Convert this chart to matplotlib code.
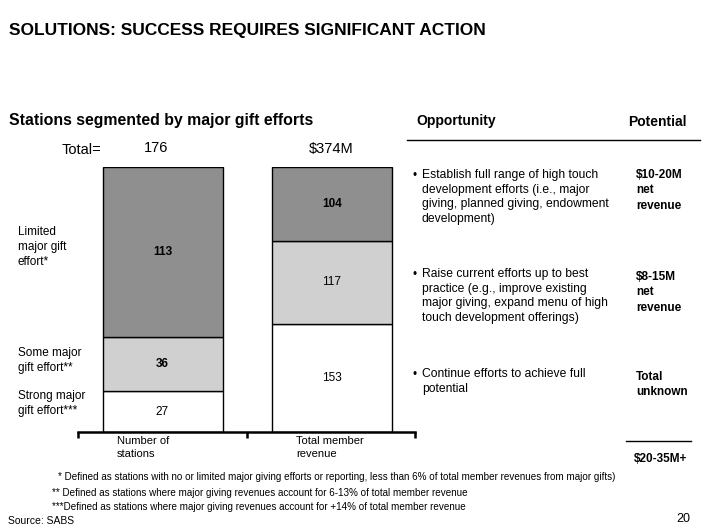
'''
Stacked bars of stations by major gift effort, with opportunity / potential table
'''

import matplotlib
matplotlib.use('Agg')
import matplotlib.pyplot as plt

plt.rcParams['font.family'] = ['Liberation Sans', 'DejaVu Sans']

W, H = 706, 529

#Data
segments = ['Strong major\ngift effort***', 'Some major\ngift effort**', 'Limited\nmajor gift\neffort*']
stations = [27, 36, 113]
revenue = [153, 117, 104]
bar_names = ['Number of\nstations', 'Total member\nrevenue']
totals = ['176', '$374M']
seg_colors = ['white', '#d0d0d0', '#8f8f8f']
bold_stations = [False, True, True]
bold_revenue = [False, False, True]

opportunities = ['Establish full range of high touch\ndevelopment efforts (i.e., major\ngiving, planned giving, endowment\ndevelopment)',
                 'Raise current efforts up to best\npractice (e.g., improve existing\nmajor giving, expand menu of high\ntouch development offerings)',
                 'Continue efforts to achieve full\npotential']
potentials = ['$10-20M\nnet\nrevenue', '$8-15M\nnet\nrevenue', 'Total\nunknown']
potential_total = '$20-35M+'

footnotes = ['* Defined as stations with no or limited major giving efforts or reporting, less than 6% of total member revenues from major gifts)',
             '** Defined as stations where major giving revenues account for 6-13% of total member revenue',
             '***Defined as stations where major giving revenues account for +14% of total member revenue']

def fx(x):
    return x / W

def fy(y):
    return 1 - y / H

fig = plt.figure(figsize=(W / 100, H / 100), dpi=100)

def txt(x, y, s, **kw):
    kw.setdefault('va', 'center')
    kw.setdefault('ha', 'left')
    fig.text(fx(x), fy(y), s, **kw)

#Bars - both stacked to 100%
left, right, top, bot = 78, 415, 167, 432
ax = fig.add_axes([fx(left), fy(bot), (right - left) / W, (bot - top) / H])
c1, c2 = 162.5, 332.0
step = c2 - c1
xmin, xmax = (left - c1) / step, (right - c1) / step
width = 120 / step

for xi, vals, bolds in [(0, stations, bold_stations), (1, revenue, bold_revenue)]:
    tot = float(sum(vals))
    base = 0.0
    for v, col, b in zip(vals, seg_colors, bolds):
        h = v / tot
        ax.bar(xi, h, width=width, bottom=base, color=col, edgecolor='black', linewidth=1.0)
        ax.text(xi, base + h / 2, str(v), ha='center', va='center', fontsize=8.5,
                fontweight='bold' if b else 'normal')
        base += h

ax.set_xlim(xmin, xmax)
ax.set_ylim(0, 1)
for s in ['top', 'left', 'right']:
    ax.spines[s].set_visible(False)
ax.spines['bottom'].set_linewidth(1.8)
ax.set_xticks([xmin, 0.5, xmax])
ax.set_xticklabels([])
ax.tick_params(axis='x', direction='out', length=4, width=1.8)
ax.set_yticks([])

#Headings
txt(9, 30, 'SOLUTIONS: SUCCESS REQUIRES SIGNIFICANT ACTION', fontsize=12.5, fontweight='bold')
txt(9, 121, 'Stations segmented by major gift efforts', fontsize=11.4, fontweight='bold')
txt(62, 150, 'Total=', fontsize=10.5)
txt(156, 148, totals[0], fontsize=10.5, ha='center')
txt(331, 149, totals[1], fontsize=10.5, ha='center')

#Segment labels at left
for lab, y in zip(segments, [403.5, 360.5, 247]):
    txt(18, y, lab, fontsize=8.5, linespacing=1.38)

#Bar labels below
txt(117, 447.5, bar_names[0], fontsize=8, linespacing=1.3)
txt(296, 447.5, bar_names[1], fontsize=8, linespacing=1.3)

#Opportunity / potential table
txt(416, 121, 'Opportunity', fontsize=10, fontweight='bold')
txt(628, 122, 'Potential', fontsize=10, fontweight='bold')
fig.add_artist(plt.Line2D([fx(407), fx(700)], [fy(140), fy(140)], color='black', linewidth=1))

for opp, y in zip(opportunities, [176, 275, 375]):
    txt(413, y, '\u2022', fontsize=8.5)
    fig.text(fx(422), fy(y - 7), opp, fontsize=8.7, va='top', ha='left', linespacing=1.29)

for pot, y in zip(potentials, [176, 278, 378]):
    fig.text(fx(636), fy(y - 7), pot, fontsize=8.5, fontweight='bold', va='top', ha='left',
             linespacing=1.37)

fig.add_artist(plt.Line2D([fx(626), fx(691)], [fy(441), fy(441)], color='black', linewidth=1))
txt(634, 459, potential_total, fontsize=8.5, fontweight='bold')

#Footnotes
for note, x, y in zip(footnotes, [58, 52, 52], [477, 493, 507]):
    txt(x, y, note, fontsize=7.15)
txt(8, 521, 'Source: SABS', fontsize=7.5)
txt(676, 519, '20', fontsize=9)

fig.savefig('out.png', dpi=100)
